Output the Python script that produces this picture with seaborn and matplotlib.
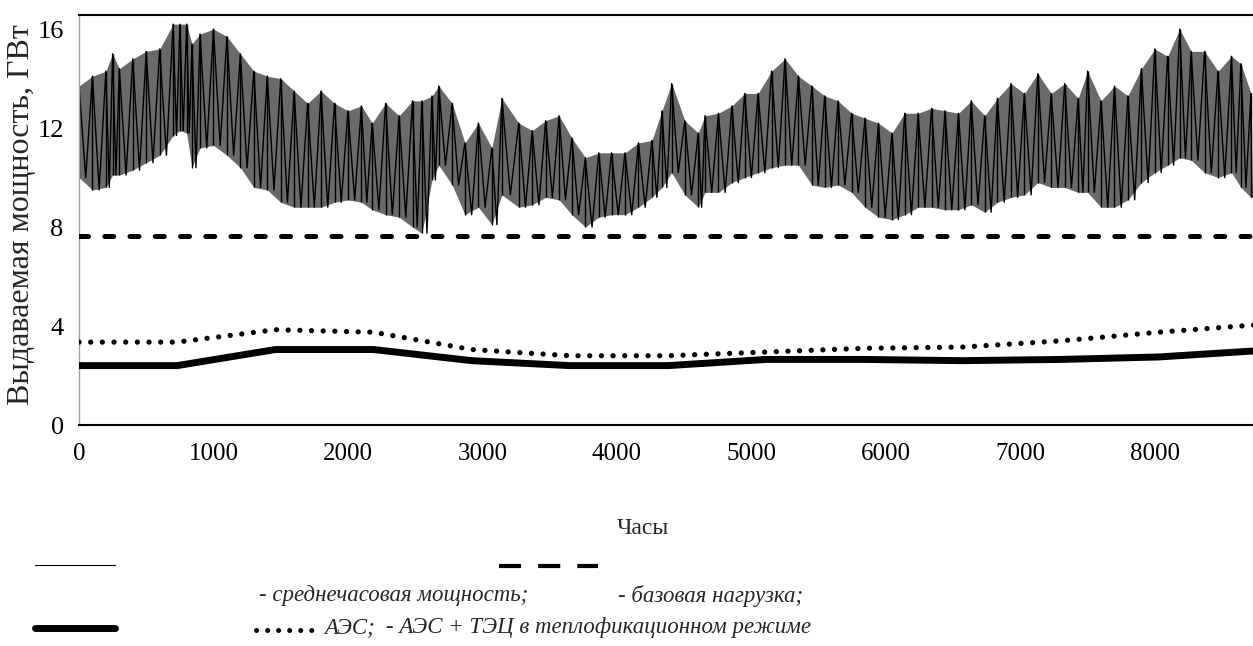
import numpy as np
import pandas as pd
import matplotlib
matplotlib.use("Agg")
import matplotlib.pyplot as plt
import seaborn as sns
from matplotlib.lines import Line2D

# hourly power envelope (hour, daily max, daily min), GW
hours = [0, 100, 200, 250, 300, 400, 500, 600, 700, 750, 800, 840, 900, 1000,
         1100, 1200, 1300, 1400, 1500, 1600, 1700, 1800, 1900, 2000, 2100, 2180,
         2280, 2380, 2480, 2550, 2625, 2675, 2775, 2870, 2970, 3070, 3145, 3270,
         3370, 3470, 3570, 3665, 3765, 3865, 3960, 4060, 4160, 4260, 4335, 4407,
         4505, 4605, 4655, 4755, 4855, 4950, 5050, 5150, 5250, 5350, 5450, 5545,
         5645, 5745, 5845, 5945, 6045, 6140, 6240, 6340, 6440, 6540, 6635, 6735,
         6830, 6930, 7030, 7130, 7230, 7330, 7430, 7500, 7600, 7700, 7800, 7900,
         8000, 8095, 8185, 8270, 8370, 8470, 8570, 8640, 8715]
p_max = [13.7, 14.1, 14.3, 15.0, 14.4, 14.8, 15.1, 15.2, 16.2, 16.2, 16.2, 15.4, 15.8, 16.0,
         15.7, 15.0, 14.3, 14.1, 14.0, 13.5, 13.0, 13.5, 13.0, 12.7, 12.9, 12.2,
         13.0, 12.5, 13.1, 13.1, 13.3, 13.7, 13.0, 11.4, 12.2, 11.2, 13.2, 12.2,
         11.9, 12.3, 12.5, 11.6, 10.8, 11.0, 11.0, 11.0, 11.4, 11.5, 12.7, 13.8,
         12.3, 11.8, 12.5, 12.6, 12.9, 13.4, 13.4, 14.3, 14.8, 14.1, 13.7, 13.3,
         13.1, 12.6, 12.4, 12.2, 11.8, 12.6, 12.6, 12.8, 12.7, 12.6, 13.1, 12.5,
         13.2, 13.8, 13.4, 14.2, 13.4, 13.8, 13.2, 14.3, 13.1, 13.7, 13.3, 14.4,
         15.2, 14.9, 16.0, 15.1, 15.1, 14.3, 14.9, 14.6, 13.4]
p_min = [10.0, 9.5, 9.6, 10.1, 10.1, 10.3, 10.6, 10.9, 11.7, 11.9, 11.8, 10.4, 11.2, 11.3,
         10.9, 10.4, 9.6, 9.5, 9.0, 8.8, 8.8, 8.8, 9.0, 9.1, 9.0, 8.7,
         8.5, 8.4, 8.0, 7.75, 9.9, 10.5, 9.7, 8.5, 8.8, 8.1, 9.3, 8.8,
         8.9, 9.2, 9.1, 8.5, 8.0, 8.4, 8.5, 8.5, 8.8, 9.2, 9.6, 10.2,
         9.3, 8.8, 9.4, 9.4, 9.8, 10.0, 10.2, 10.4, 10.5, 10.5, 9.7, 9.6,
         9.7, 9.4, 8.8, 8.4, 8.3, 8.5, 8.8, 8.8, 8.7, 8.7, 8.9, 8.6,
         9.0, 9.2, 9.3, 9.8, 9.6, 9.6, 9.4, 9.4, 8.8, 8.8, 9.1, 9.8,
         10.2, 10.5, 10.8, 10.7, 10.2, 10.0, 10.2, 9.6, 9.2]

# monthly lines
month_hours = [0, 730, 1460, 2190, 2920, 3650, 4380, 5110, 5840, 6570, 7300, 8030, 8760]
npp = [2.4, 2.4, 3.05, 3.05, 2.6, 2.4, 2.4, 2.65, 2.65, 2.6, 2.65, 2.75, 3.0]
npp_chp = [3.35, 3.35, 3.85, 3.75, 3.05, 2.8, 2.8, 2.95, 3.1, 3.15, 3.4, 3.75, 4.05]
base_hours = [0, 8760]
base_load = [7.65, 7.65]

sns.set_theme(style="white")
plt.rcParams["font.family"] = ["Liberation Serif", "DejaVu Serif"]

W, H = 1253, 646
fig = plt.figure(figsize=(W / 100, H / 100), dpi=100)
ax = fig.add_axes([79 / W, 1 - 425 / H, 1 - 79 / W, (425 - 15) / H])

# zigzag between daily max and min
zig_x, zig_y = [], []
for i, h in enumerate(hours):
    nxt = hours[i + 1] if i + 1 < len(hours) else 8730
    zig_x += [h, (h + nxt) / 2]
    zig_y += [p_max[i], p_min[i]]
hourly = pd.DataFrame({"hour": zig_x, "power": zig_y})

ax.fill_between(hours, p_min, p_max, color="#6a6a6a", lw=0, zorder=1)
ax.vlines(hours, p_min, p_max, color="black", lw=1.0, zorder=2)
sns.lineplot(data=hourly, x="hour", y="power", ax=ax, color="black", lw=1.0,
             sort=False, zorder=2)

sns.lineplot(x=base_hours, y=base_load, ax=ax, color="black", lw=3.6, zorder=3)
ax.lines[-1].set_dashes([1.8, 3.25])
ax.lines[-1].set_dash_capstyle("round")

sns.lineplot(x=month_hours, y=npp, ax=ax, color="black", lw=5.0, zorder=3)
sns.lineplot(x=month_hours, y=npp_chp, ax=ax, color="black", lw=3.8, zorder=3)
ax.lines[-1].set_dashes([0.01, 2.2])
ax.lines[-1].set_dash_capstyle("round")

ax.set_xlim(0, 8730)
ax.set_ylim(0, 16.57)
ax.set_xticks(range(0, 9000, 1000))
ax.set_yticks([0, 4, 8, 12, 16])
ax.set_xlabel("")
ax.set_ylabel("")
ax.tick_params(axis="x", direction="inout", length=14, width=1, color="black",
               labelsize=18, pad=6)
ax.tick_params(axis="y", direction="inout", length=14, width=1, color="#a0a0a0",
               labelsize=19, pad=4)
ax.tick_params(axis="both", labelcolor="black")
for s in ["top", "bottom"]:
    ax.spines[s].set_color("black")
    ax.spines[s].set_linewidth(1.5)
ax.spines["left"].set_color("#a0a0a0")
ax.spines["left"].set_linewidth(1)
ax.spines["right"].set_visible(False)

fig.text(22 / W, 1 - 215 / H, "Выдаваемая мощность, ГВт", rotation=90,
         ha="center", va="center", fontsize=23)
fig.text(643 / W, 1 - 528 / H, "Часы", ha="center", va="center", fontsize=17)

# legend drawn by hand, as in the original
def fx(px):
    return px / W

def fy(px):
    return 1 - px / H

fig.add_artist(Line2D([fx(35), fx(115)], [fy(565), fy(565)], color="black", lw=0.8))
fig.add_artist(Line2D([fx(499), fx(598)], [fy(566), fy(566)], color="black", lw=3.0,
                      dashes=[5.3, 4.1], dash_capstyle="butt"))
fig.add_artist(Line2D([fx(35), fx(115)], [fy(628), fy(628)], color="black", lw=5.0))
fig.add_artist(Line2D([fx(256), fx(322)], [fy(630), fy(630)], color="black", lw=3.6,
                      dashes=[0.01, 2.2], dash_capstyle="round"))

leg_font = dict(fontsize=16.5, style="italic", va="center")
fig.text(fx(394), fy(596), "- среднечасовая мощность;", ha="center", **leg_font)
fig.text(fx(711), fy(596), "- базовая нагрузка;", ha="center", **leg_font)
fig.text(fx(324), fy(628), "АЭС;", ha="left", **leg_font)
fig.text(fx(386), fy(628), "- АЭС + ТЭЦ в теплофикационном режиме", ha="left", **leg_font)

fig.savefig("out.png", dpi=100)
